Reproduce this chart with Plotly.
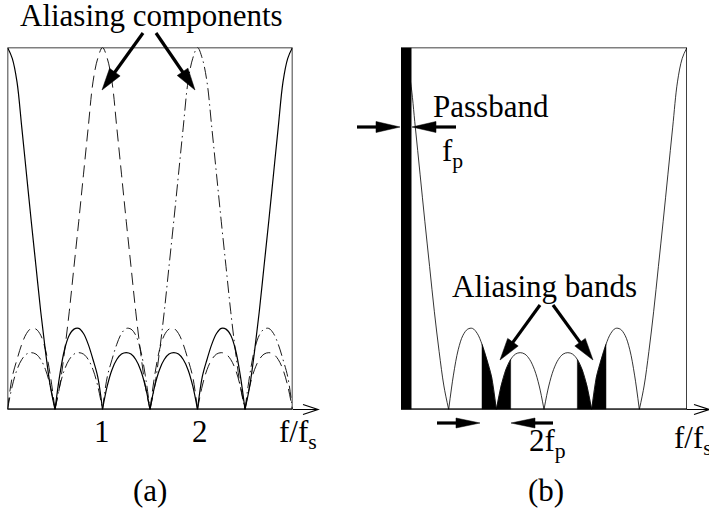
import numpy as np
import plotly.graph_objects as go

W, H = 709, 527

# frequency grid (f/fs) and the filter magnitude, one period 0..3
freq = [round(0.05 * i, 2) for i in range(61)]
main_lobe_down = [1.0, 0.97, 0.905, 0.78, 0.65, 0.52, 0.395, 0.27, 0.16, 0.065, 0.0]
side_lobe_a = [0.095, 0.165, 0.205, 0.222, 0.224, 0.21, 0.18, 0.138, 0.09, 0.0]
side_lobe_b = [0.065, 0.11, 0.138, 0.153, 0.157, 0.153, 0.138, 0.11, 0.065, 0.0]
side_lobe_b2 = [0.065, 0.11, 0.138, 0.153, 0.157, 0.153, 0.138, 0.11, 0.065, 0.0]
side_lobe_a2 = [0.09, 0.138, 0.18, 0.21, 0.224, 0.222, 0.205, 0.165, 0.095, 0.0]
main_lobe_up = [0.065, 0.16, 0.27, 0.395, 0.52, 0.65, 0.78, 0.905, 0.97, 1.0]
mag = main_lobe_down + side_lobe_a + side_lobe_b + side_lobe_b2 + side_lobe_a2 + main_lobe_up

# aliasing components = same response moved by fs and 2fs (20 and 40 samples)
shift_1 = 20
shift_2 = 40

# panel (b) shaded regions
passband_edge = 0.11
band_lo = [0.85, 1.85]
band_hi = [1.15, 2.15]


def px(x):
    return x / W


def py(y):
    return 1 - y / H


def segments(f, v):
    # break the line at every interior null so the V notches stay sharp
    xs, ys = [], []
    for i, (a, b) in enumerate(zip(f, v)):
        xs.append(a)
        ys.append(b)
        if b == 0 and 0 < i < len(f) - 1:
            xs += [None, a]
            ys += [None, b]
    return xs, ys


def rolled(v, k):
    per = v[:-1]
    out = [per[(i - k) % len(per)] for i in range(len(per))]
    return out + [out[0]]


fig = go.Figure()

xa, ya = segments(freq, mag)
fig.add_trace(go.Scatter(x=xa, y=ya, mode='lines', line=dict(color='black', width=1.2, shape='spline'),
                         xaxis='x', yaxis='y'))
xd, yd = segments(freq, rolled(mag, shift_1))
fig.add_trace(go.Scatter(x=xd, y=yd, mode='lines',
                         line=dict(color='black', width=0.9, shape='spline', dash='12px,6px'),
                         xaxis='x', yaxis='y'))
xdd, ydd = segments(freq, rolled(mag, shift_2))
fig.add_trace(go.Scatter(x=xdd, y=ydd, mode='lines',
                         line=dict(color='black', width=0.9, shape='spline', dash='12px,4px,1.5px,4px'),
                         xaxis='x', yaxis='y'))

# panel (b): aliasing bands filled under the curve
for lo, hi in zip(band_lo, band_hi):
    sel = [(f, v) for f, v in zip(freq, mag) if lo - 1e-9 <= f <= hi + 1e-9]
    bx = [lo] + [s[0] for s in sel] + [hi]
    by = [0] + [s[1] for s in sel] + [0]
    fig.add_trace(go.Scatter(x=bx, y=by, mode='lines', fill='toself', fillcolor='black',
                             line=dict(color='black', width=0.5), xaxis='x2', yaxis='y2'))

fig.add_trace(go.Scatter(x=xa, y=ya, mode='lines', line=dict(color='black', width=0.8, shape='spline'),
                         xaxis='x2', yaxis='y2'))

shapes = []
# frames
for xr, yr in (('x', 'y'), ('x2', 'y2')):
    shapes.append(dict(type='rect', xref=xr, yref=yr, x0=0, x1=3, y0=0, y1=1,
                       line=dict(color='black', width=1.5)))
    shapes.append(dict(type='line', xref=xr, yref=yr, x0=0, x1=3, y0=0, y1=0,
                       line=dict(color='black', width=2.2)))
shapes.append(dict(type='rect', xref='x2', yref='y2', x0=0, x1=passband_edge, y0=0, y1=1,
                   fillcolor='black', line=dict(width=0)))


def axis_arrow(x0, x1, y):
    shapes.append(dict(type='line', xref='paper', yref='paper', x0=px(x0), x1=px(x1), y0=py(y), y1=py(y),
                       line=dict(color='black', width=1)))
    path = 'M %f,%f L %f,%f L %f,%f' % (px(x1 - 15), py(y - 5), px(x1), py(y), px(x1 - 15), py(y + 5))
    shapes.append(dict(type='path', xref='paper', yref='paper', path=path,
                       line=dict(color='black', width=1.2)))


def arrow(x0, y0, x1, y1, head=22, half=6.5, width=3.2):
    dx, dy = x1 - x0, y1 - y0
    L = np.hypot(dx, dy)
    ux, uy = dx / L, dy / L
    bx, by = x1 - ux * head, y1 - uy * head
    shapes.append(dict(type='line', xref='paper', yref='paper', x0=px(x0), y0=py(y0),
                       x1=px(bx + ux * 2), y1=py(by + uy * 2), line=dict(color='black', width=width)))
    path = 'M %f,%f L %f,%f L %f,%f Z' % (px(x1), py(y1), px(bx - uy * half), py(by + ux * half),
                                          px(bx + uy * half), py(by - ux * half))
    shapes.append(dict(type='path', xref='paper', yref='paper', path=path, fillcolor='black',
                       line=dict(color='black', width=0.5)))


axis_arrow(293, 318, 409.5)
axis_arrow(687, 709, 409.5)

arrow(143, 33, 102, 90)
arrow(156, 33, 195, 90)
arrow(357, 127, 400, 127, head=24, half=5.5)
arrow(456, 127, 412, 127, head=24, half=5.5)
arrow(540, 305, 500, 360)
arrow(553, 305, 593, 360)
arrow(437, 423, 480, 423, head=24, half=5)
arrow(553, 423, 511, 423, head=24, half=5)

notes = [
    ('Aliasing components', 151.5, 15.5, 'center'),
    ('1', 102, 431, 'center'),
    ('2', 200, 431, 'center'),
    ('f/f<sub>s</sub>', 277, 434, 'left'),
    ('(a)', 150, 490, 'center'),
    ('Passband', 490.5, 107, 'center'),
    ('f<sub>p</sub>', 440, 153, 'left'),
    ('Aliasing bands', 544, 286, 'center'),
    ('2f<sub>p</sub>', 527, 443, 'left'),
    ('f/f<sub>s</sub>', 672, 440, 'left'),
    ('(b)', 546, 490, 'center'),
]
annotations = [dict(text=t, x=px(x), y=py(y), xref='paper', yref='paper', xanchor=a, yanchor='middle',
                    showarrow=False,
                    font=dict(family='Liberation Serif, Times New Roman, serif', size=31, color='black'))
               for t, x, y, a in notes]

hidden = dict(visible=False, range=[0, 3], fixedrange=True)
fig.update_layout(
    width=W, height=H,
    margin=dict(l=0, r=0, t=0, b=0),
    paper_bgcolor='white', plot_bgcolor='white',
    showlegend=False,
    xaxis=dict(hidden, domain=[px(7.5), px(292.5)], anchor='y'),
    yaxis=dict(visible=False, range=[0, 1], domain=[py(409.5), py(47.5)], anchor='x', fixedrange=True),
    xaxis2=dict(hidden, domain=[px(401), px(687)], anchor='y2'),
    yaxis2=dict(visible=False, range=[0, 1], domain=[py(409.5), py(47.5)], anchor='x2', fixedrange=True),
    shapes=shapes,
    annotations=annotations,
)

# page body default margin would push the figure 8px off; drop it
fig.write_html("out.html", config={'displayModeBar': False},
               post_script="document.body.style.margin='0';")
